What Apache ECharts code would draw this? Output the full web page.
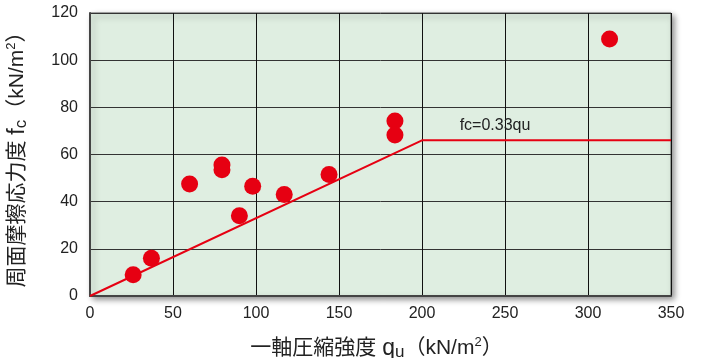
<!DOCTYPE html>
<html><head><meta charset="utf-8">
<script src="https://cdn.jsdelivr.net/npm/echarts@6/dist/echarts.min.js"></script>
<style>html,body{margin:0;padding:0;background:#fff}#c{width:702px;height:358px}</style>
</head><body><div id="c"></div>
<script>
const qu = [26, 37, 60, 79.5, 79.5, 90, 98, 117, 144, 183.7, 183.7, 313];
const fc = [9, 16, 47.5, 55.5, 53.5, 34, 46.5, 43, 51.5, 74.2, 68.3, 109];
const lineX = [0, 200, 350];
const lineY = [0, 66, 66];
const lineLabel = 'fc=0.33qu';
const xTicks = [0, 50, 100, 150, 200, 250, 300, 350];
const yTicks = [0, 20, 40, 60, 80, 100, 120];

const font = '"Liberation Sans", Arial, "Noto Sans CJK JP", sans-serif';
const chart = echarts.init(document.getElementById('c'));
const rich = {
  t: {fontSize: 21, fontFamily: font, color: '#222'},
  q: {fontSize: 23, fontFamily: font, color: '#222'},
  sub: {fontSize: 17, fontFamily: font, color: '#222', verticalAlign: 'bottom', padding: [8, 0, 0, 0]},
  sup: {fontSize: 13, fontFamily: font, color: '#222', verticalAlign: 'top', padding: [0, 0, 8, 0]}
};
chart.setOption({
  animation: false,
  grid: {left: 90, right: 31, top: 13, bottom: 62, show: true, backgroundColor: '#dfeee1',
         outerBoundsMode: 'none', containLabel: false,
         borderColor: '#555', borderWidth: 1, shadowColor: 'rgba(0,0,0,0.45)', shadowBlur: 6, shadowOffsetX: 3, shadowOffsetY: 3},
  xAxis: {
    type: 'value', min: xTicks[0], max: xTicks[xTicks.length - 1], interval: 50,
    axisLine: {show: true, lineStyle: {color: '#444', width: 2}},
    axisTick: {show: false},
    splitLine: {show: true, lineStyle: {color: '#111', width: 1}},
    axisLabel: {fontSize: 16, color: '#222', fontFamily: font, margin: 10},
    name: '{t|一軸圧縮強度 }{q|q}{sub|u}{t|（kN/m}{sup|2}{t|）}',
    nameLocation: 'middle', nameGap: 40,
    nameTextStyle: {rich: rich, padding: [0, 8, 0, 0]}
  },
  yAxis: {
    type: 'value', min: yTicks[0], max: yTicks[yTicks.length - 1], interval: 20,
    axisLine: {show: true, lineStyle: {color: '#444', width: 2}},
    axisTick: {show: false},
    splitLine: {show: true, lineStyle: {color: '#333', width: 1}},
    axisLabel: {fontSize: 16, color: '#222', fontFamily: font, margin: 12},
    name: '{t|周面摩擦応力度 }{q|f}{sub|c}{t|（kN/m}{sup|2}{t|）}',
    nameLocation: 'middle', nameGap: 60, nameRotate: 90,
    nameTextStyle: {rich: rich}
  },
  series: [
    {
      type: 'line', data: lineX.map((x, i) => [x, lineY[i]]), symbol: 'none',
      lineStyle: {color: '#e60012', width: 2}, z: 3,
      markPoint: {
        symbol: 'circle', symbolSize: 0,
        data: [{coord: [244, lineY[1]], value: lineLabel}],
        label: {show: true, formatter: lineLabel, position: 'top', distance: 7, color: '#222', fontSize: 16, fontFamily: font}
      }
    },
    {
      type: 'scatter', data: qu.map((x, i) => [x, fc[i]]), symbol: 'circle', symbolSize: 17,
      itemStyle: {color: '#e60012', opacity: 1}, z: 4
    }
  ]
});
</script></body></html>
